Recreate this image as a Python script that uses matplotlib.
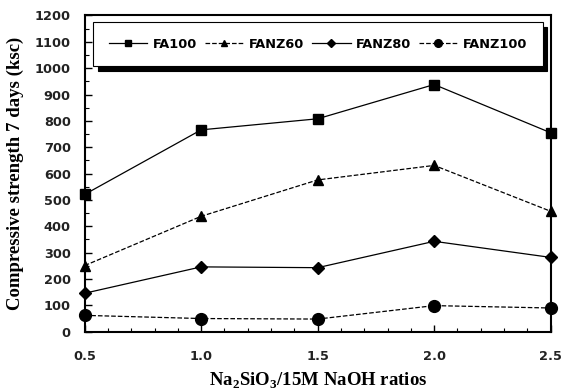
import matplotlib
matplotlib.use("Agg")
import matplotlib.pyplot as plt
from matplotlib.ticker import MultipleLocator, FormatStrFormatter
from matplotlib.lines import Line2D

ratios = [0.5, 1.0, 1.5, 2.0, 2.5]
fa100 = [521, 766, 808, 938, 755]
fanz60 = [251, 438, 576, 631, 457]
fanz80 = [146, 246, 243, 343, 282]
fanz100 = [62, 50, 48, 99, 90]

series = [
    ("FA100", fa100, "-", "s", 7.5),
    ("FANZ60", fanz60, "--", "^", 7.5),
    ("FANZ80", fanz80, "-", "D", 6.0),
    ("FANZ100", fanz100, "--", "o", 8.5),
]

plt.rcParams["mathtext.fontset"] = "custom"
plt.rcParams["mathtext.rm"] = "Liberation Serif:bold"
plt.rcParams["mathtext.bf"] = "Liberation Serif:bold"

fig = plt.figure(figsize=(5.63, 3.92), dpi=100)
ax = fig.add_axes([0.1504, 0.1538, 0.8277, 0.8067])

handles = []
for name, vals, ls, mk, ms in series:
    ax.plot(ratios, vals, linestyle=ls, color="black", lw=0.9,
            marker=mk, markersize=ms, markerfacecolor="black",
            markeredgecolor="black", clip_on=False, zorder=3)
    handles.append(Line2D([], [], linestyle=ls, color="black", lw=0.9,
                          marker=mk, markersize=ms * 0.65,
                          markerfacecolor="black", markeredgecolor="black",
                          label=name))

ax.set_xlim(0.5, 2.5)
ax.set_ylim(0, 1200)
ax.xaxis.set_major_locator(MultipleLocator(0.5))
ax.xaxis.set_minor_locator(MultipleLocator(0.1))
ax.yaxis.set_major_locator(MultipleLocator(100))
ax.yaxis.set_minor_locator(MultipleLocator(50))
ax.xaxis.set_major_formatter(FormatStrFormatter("%.1f"))

ax.tick_params(which="both", direction="in", color="black")
ax.tick_params(which="major", length=5, width=1)
ax.tick_params(which="minor", length=3, width=0.8)
ax.tick_params(axis="x", which="major", pad=13)
ax.tick_params(axis="y", which="major", pad=10)
for lab in ax.get_xticklabels() + ax.get_yticklabels():
    lab.set_fontfamily("DejaVu Sans")
    lab.set_fontweight("bold")
    lab.set_fontsize(9.3)
    lab.set_color("#222222")

for sp in ax.spines.values():
    sp.set_linewidth(1.5)
    sp.set_color("black")

ax.set_xlabel("Na$_\\mathrm{2}$SiO$_\\mathrm{3}$/15M NaOH ratios",
              fontfamily="Liberation Serif", fontweight="bold", fontsize=13.5,
              labelpad=6)
ax.set_ylabel("Compressive strength 7 days (ksc)",
              fontfamily="Liberation Serif", fontweight="bold", fontsize=13.5,
              labelpad=8)

leg = ax.legend(handles=handles, loc="center", ncol=4, mode="expand",
                bbox_to_anchor=(0.018, 0.838, 0.965, 0.142),
                prop={"family": "DejaVu Sans", "weight": "bold", "size": 9.3},
                frameon=True, fancybox=False, edgecolor="black",
                handlelength=3.0, handletextpad=0.4, columnspacing=1.0,
                borderpad=1.2, borderaxespad=0.0,
                shadow={"ox": 3.2, "oy": -3.2, "color": "black", "alpha": 1})
leg.get_frame().set_linewidth(0.8)

fig.savefig("out.png", dpi=100)
